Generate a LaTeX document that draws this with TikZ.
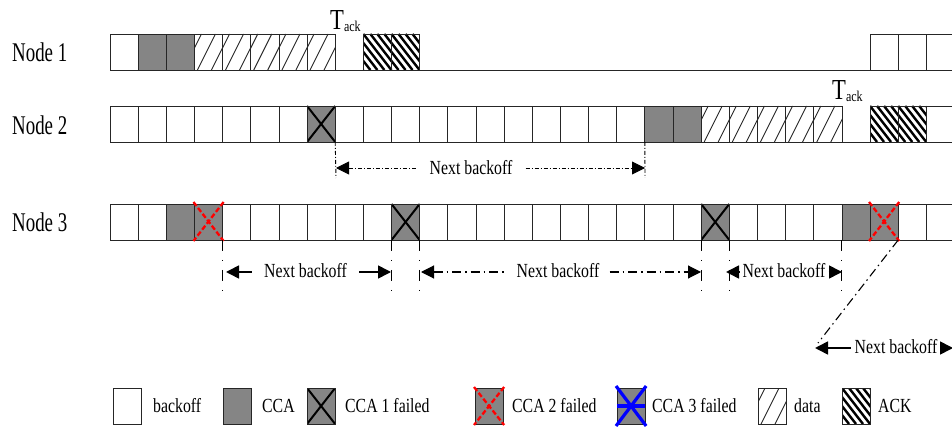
\documentclass[tikz,border=0pt]{standalone}
\usepackage{fontspec}
\usepackage{graphicx}
\setmainfont{Liberation Serif}
\usetikzlibrary{arrows.meta,calc}
\newcommand{\cnd}[2][0.79]{\scalebox{#1}[1]{#2}}
\tikzset{htip/.tip={Triangle[length=13pt,width=13pt]}}
\begin{document}
\begin{tikzpicture}[x=1pt,y=-1pt,
  sbk/.style={draw=black!85, line width=0.8pt, minimum width=28.15pt, minimum height=36pt, inner sep=0pt, outer sep=0pt, anchor=north west},
  scc/.style={sbk, fill=black!48},
  sdt/.style={sbk, path picture={
     \foreach \k in {-1,0,1,2}{\draw[black!85,line width=0.9pt] ($(path picture bounding box.south west)+(3+14*\k,0)$) -- ++(18,-36);}}},
  sak/.style={sbk, path picture={
     \foreach \k in {-6,...,4}{\draw[black,line width=2.4pt] ($(path picture bounding box.north west)+(7*\k,0)$) -- ++(28,36);}}},
  sxa/.style={scc, path picture={
     \draw[black,line width=2pt] (path picture bounding box.north west) -- (path picture bounding box.south east);
     \draw[black,line width=2pt] (path picture bounding box.north east) -- (path picture bounding box.south west);}},
  redx/.style={red, line width=2.3pt, dash pattern=on 5pt off 2.5pt},
  bluex/.style={blue, line width=3.2pt},
  baseln/.style={black!85, line width=0.9pt},
  lab/.style={font=\fontsize{20}{22}\selectfont, inner sep=0pt},
  nodelab/.style={font=\fontsize{27}{30}\selectfont, inner sep=0pt, anchor=west},
  fdd/.style={black, line width=0.9pt, dash pattern=on 4pt off 2pt on 1pt off 2pt},
  mdd/.style={black, line width=1.1pt, dash pattern=on 9pt off 4pt on 1.5pt off 4pt},
  vdd/.style={black, line width=1pt, dash pattern=on 11pt off 9pt on 1pt off 9pt},
  sol/.style={black, line width=1.6pt}
]
\clip (0,0) rectangle (952,427);
% labels
\node[nodelab] (n1) at (12,52) {\cnd[0.7]{Node 1}};
\node[nodelab] (n2) at (12,125) {\cnd[0.7]{Node 2}};
\node[nodelab] (n3) at (12,222) {\cnd[0.7]{Node 3}};
% row 1
\foreach \i/\s in {0/sbk,1/scc,2/scc,3/sdt,4/sdt,5/sdt,6/sdt,7/sdt,9/sak,10/sak,27/sbk,28/sbk,29/sbk}
  \node[\s] (r1-\i) at ({110+28.15*\i},34) {};
\coordinate (r1e) at (952,70);
\draw[baseln] (r1-0.south west) -- (r1e);
\node[anchor=base west, inner sep=0pt] (tack1) at (330,30) {\fontsize{29}{30}\selectfont\cnd[0.78]{T}\raisebox{-1.5pt}{\fontsize{15}{16}\selectfont\cnd[0.8]{ack}}};
% row 2
\foreach \i/\s in {0/sbk,1/sbk,2/sbk,3/sbk,4/sbk,5/sbk,6/sbk,7/sxa,8/sbk,9/sbk,10/sbk,11/sbk,12/sbk,13/sbk,14/sbk,15/sbk,16/sbk,17/sbk,18/sbk,19/scc,20/scc,21/sdt,22/sdt,23/sdt,24/sdt,25/sdt,27/sak,28/sak,29/sbk}
  \node[\s] (r2-\i) at ({110+28.15*\i},106) {};
\coordinate (r2e) at (952,142);
\draw[baseln] (r2-0.south west) -- (r2e);
\node[anchor=base west, inner sep=0pt] (tack2) at (832,100) {\fontsize{29}{30}\selectfont\cnd[0.78]{T}\raisebox{-1.5pt}{\fontsize{15}{16}\selectfont\cnd[0.8]{ack}}};
% row 3
\foreach \i/\s in {0/sbk,1/sbk,2/scc,3/scc,4/sbk,5/sbk,6/sbk,7/sbk,8/sbk,9/sbk,10/sxa,11/sbk,12/sbk,13/sbk,14/sbk,15/sbk,16/sbk,17/sbk,18/sbk,19/sbk,20/sbk,21/sxa,22/sbk,23/sbk,24/sbk,25/sbk,26/scc,27/scc,28/sbk,29/sbk}
  \node[\s] (r3-\i) at ({110+28.15*\i},204) {};
\coordinate (r3e) at (952,240);
\draw[baseln] (r3-0.south west) -- (r3e);
% red crosses
\foreach \n in {r3-3,r3-27}{
  \draw[redx] ($(\n.north west)+(-1,-2)$) -- ($(\n.south east)+(1,1)$);
  \draw[redx] ($(\n.north east)+(1,-2)$) -- ($(\n.south west)+(-1,1)$);
}
% row 2 next backoff
\coordinate (v2a) at (336,178);
\coordinate (v2b) at (645,178);
\draw[fdd] (r2-8.south west) -- (v2a);
\draw[fdd] (r2-19.south west) -- (v2b);
\coordinate (a2L) at (336,168);
\coordinate (a2R) at (645,168);
\node[lab, inner xsep=13pt] (t2) at (471,167.5) {\cnd{Next backoff}};
\draw[fdd, {htip}-] (a2L) -- (t2.west |- a2L);
\draw[fdd, -{htip}] (t2.east |- a2R) -- (a2R);
% row 3 verticals
\foreach \n/\c in {r3-4/vA,r3-10/vB,r3-11/vC,r3-21/vD,r3-22/vE,r3-26/vF}{
  \coordinate (\c) at ($(\n.south west)+(0,53)$);
  \draw[vdd] (\n.south west) -- (\c);
}
% arrow A
\coordinate (aAL) at (226,272);
\coordinate (aAR) at (391,272);
\node[lab, inner xsep=12pt] (tA) at (305.5,271) {\cnd{Next backoff}};
\draw[sol, {htip}-] (aAL) -- (tA.west |- aAL);
\draw[sol, -{htip}] (tA.east |- aAR) -- (aAR);
% arrow B
\coordinate (aBL) at (421,272);
\coordinate (aBR) at (701,272);
\node[lab, inner xsep=10pt] (tB) at (558,271) {\cnd{Next backoff}};
\draw[mdd, {htip}-] (aBL) -- (tB.west |- aBL);
\draw[mdd, -{htip}] (tB.east |- aBR) -- (aBR);
% arrow C
\coordinate (aCL) at (726,272);
\coordinate (aCR) at (842,272);
\node[lab, inner xsep=3pt] (tC) at (784,271) {\cnd{Next backoff}};
\draw[sol, {htip}-] (aCL) -- (tC.west |- aCL);
\draw[sol, -{htip}] (tC.east |- aCR) -- (aCR);
% arrow D
\coordinate (dB) at (818,343);
\draw[mdd] (r3-27.south east) -- (dB);
\coordinate (aDL) at (815,348);
\coordinate (aDR) at (953,348);
\node[lab, inner xsep=4pt] (tD) at (896,347) {\cnd{Next backoff}};
\draw[sol, {htip}-] (aDL) -- (tD.west |- aDL);
\draw[sol, -{htip}] (tD.east |- aDR) -- (aDR);
% legend
\node[sbk] (lg1) at (113,388) {};
\node[lab, anchor=west] (lt1) at (153,406) {\cnd{backoff}};
\node[scc] (lg2) at (223,388) {};
\node[lab, anchor=west] (lt2) at (262,406) {\cnd{CCA}};
\node[sxa] (lg3) at (307,388) {};
\node[lab, anchor=west] (lt3) at (345,406) {\cnd{CCA 1 failed}};
\node[scc] (lg4) at (475,388) {};
\draw[redx] ($(lg4.north west)+(-1,-1)$) -- ($(lg4.south east)+(1,1)$);
\draw[redx] ($(lg4.north east)+(1,-1)$) -- ($(lg4.south west)+(-1,1)$);
\node[lab, anchor=west] (lt4) at (512,406) {\cnd{CCA 2 failed}};
\node[scc] (lg5) at (617,388) {};
\draw[bluex] ($(lg5.north west)+(-1,-2)$) -- ($(lg5.south east)+(1,2)$);
\draw[bluex] ($(lg5.north east)+(1,-2)$) -- ($(lg5.south west)+(-1,2)$);
\draw[bluex] (lg5.west) -- (lg5.east);
\node[lab, anchor=west] (lt5) at (652,406) {\cnd{CCA 3 failed}};
\node[sdt] (lg6) at (758,388) {};
\node[lab, anchor=west] (lt6) at (794,406) {\cnd{data}};
\node[sak] (lg7) at (842,388) {};
\node[lab, anchor=west] (lt7) at (878,406) {\cnd{ACK}};
\end{tikzpicture}
\end{document}
